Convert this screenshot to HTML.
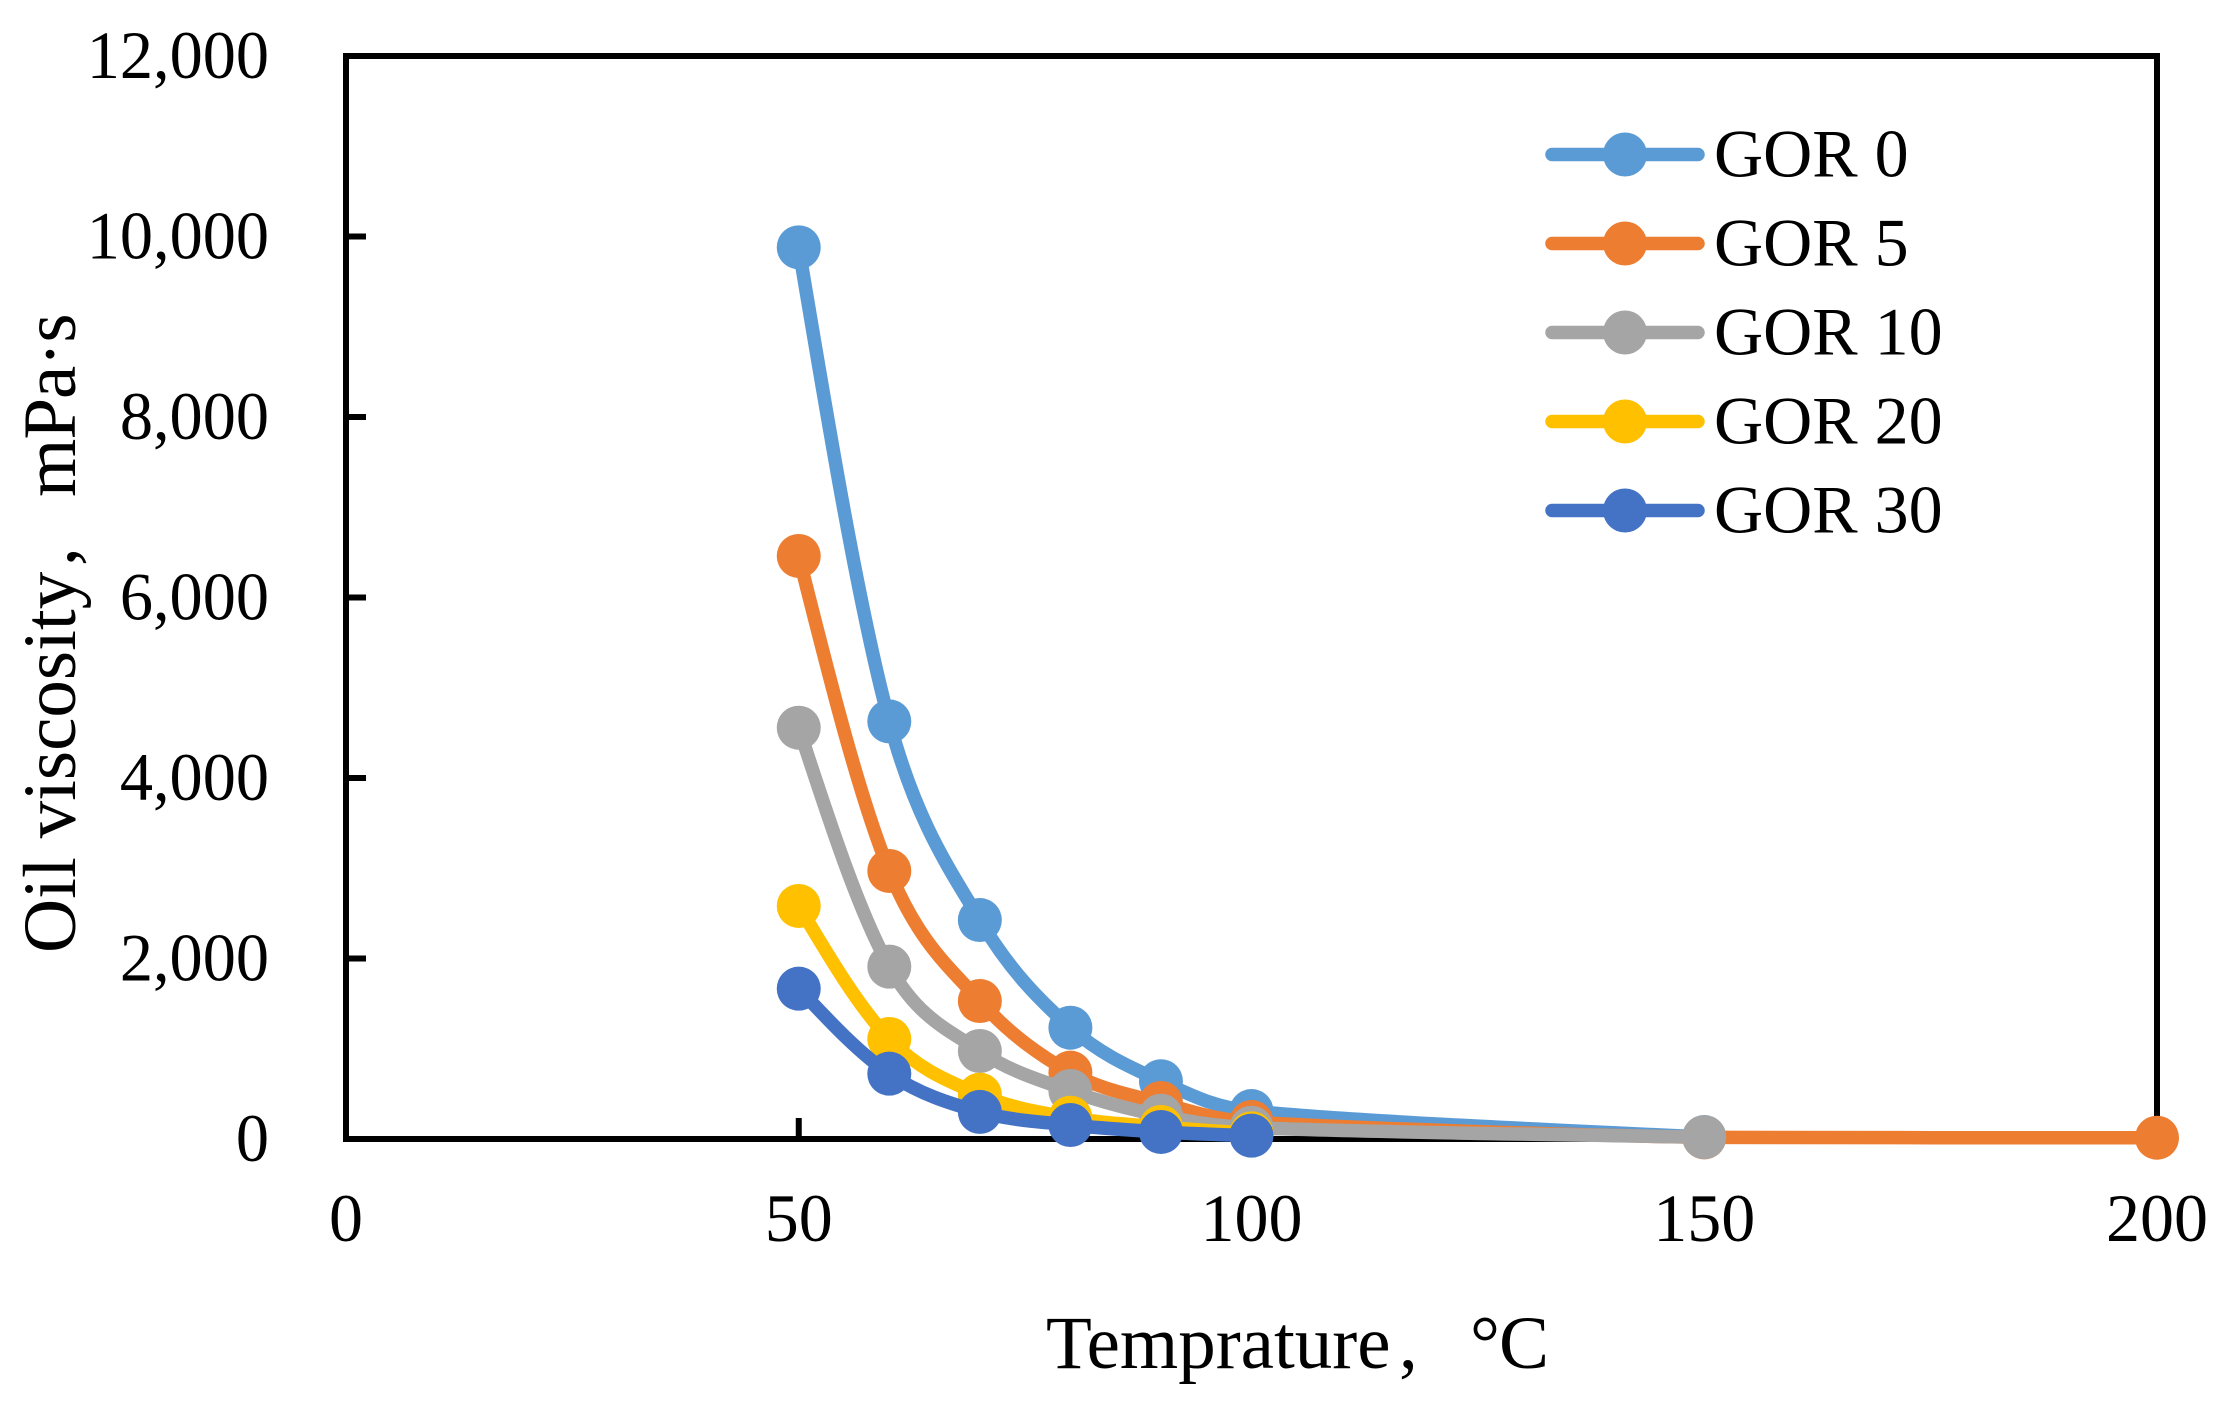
<!DOCTYPE html>
<html lang="en">
<head>
<meta charset="utf-8">
<title>Oil viscosity vs temperature</title>
<style>
  html, body { margin: 0; padding: 0; background: #fff; }
  svg { display: block; }
  text { font-family: "Liberation Serif", "Noto Serif CJK SC", serif; fill: #000; }
</style>
</head>
<body>
<svg id="chart" xmlns="http://www.w3.org/2000/svg" width="2232" height="1405" viewBox="0 0 2232 1405">
  <rect x="0" y="0" width="2232" height="1405" fill="#fff"/>
  <rect x="346" y="56" width="1811" height="1083" fill="none" stroke="#000" stroke-width="6"/>
  <g id="ticks"></g>
  <g id="series"></g>
  <text font-size="75" y="1368"><tspan x="1046">Temprature</tspan><tspan x="1399">,</tspan><tspan x="1470" letter-spacing="-1">°C</tspan></text>
  <text font-size="75" transform="translate(75,953) rotate(-90)"><tspan x="0">Oil viscosity</tspan><tspan x="387">,</tspan><tspan x="456" letter-spacing="-1">mPa·s</tspan></text>
  <g id="legend"></g>
</svg>
<script>
// Chart data
const xTickLabels = [0, 50, 100, 150, 200];
const yTickLabels = [0, 2000, 4000, 6000, 8000, 10000, 12000];
const tempsTo100 = [50, 60, 70, 80, 90, 100];
const tempsTo150 = [50, 60, 70, 80, 90, 100, 150];
const tempsTo200 = [50, 60, 70, 80, 90, 100, 150, 200];
const gor0Values = [9880, 4627, 2426, 1233, 640, 310, 22];
const gor5Values = [6460, 2970, 1529, 735, 399, 188, 18, 14];
const gor10Values = [4557, 1910, 975, 532, 258, 125, 20];
const gor20Values = [2582, 1108, 491, 236, 133, 63];
const gor30Values = [1666, 724, 300, 155, 78, 37];
const seriesNames = ["GOR 0", "GOR 5", "GOR 10", "GOR 20", "GOR 30"];
const seriesColors = ["#5B9BD5", "#ED7D31", "#A5A5A5", "#FFC000", "#4472C4"];
const seriesTemps = [tempsTo150, tempsTo200, tempsTo150, tempsTo100, tempsTo100];
const seriesValues = [gor0Values, gor5Values, gor10Values, gor20Values, gor30Values];

const SVG_NS = "http://www.w3.org/2000/svg";
const plot = { left: 346, right: 2157, top: 56, bottom: 1139 };
const xMax = 200;
const yMax = 12000;
const xScale = function (v) { return plot.left + (v / xMax) * (plot.right - plot.left); };
const yScale = function (v) { return plot.bottom - (v / yMax) * (plot.bottom - plot.top); };

function make(tag, attrs, parent) {
  const el = document.createElementNS(SVG_NS, tag);
  for (const k in attrs) el.setAttribute(k, attrs[k]);
  parent.appendChild(el);
  return el;
}

function clampBetween(v, a, b) {
  return Math.max(Math.min(a, b), Math.min(Math.max(a, b), v));
}

// Spreadsheet-style smoothing: tangent from neighbours, clamped on short segments
function smoothPath(pts) {
  const n = pts.length;
  const cpIn = new Array(n), cpOut = new Array(n);
  for (let i = 1; i < n - 1; i++) {
    const p0 = pts[i - 1], p1 = pts[i], p2 = pts[i + 1];
    const d01 = Math.hypot(p1[0] - p0[0], p1[1] - p0[1]);
    const d12 = Math.hypot(p2[0] - p1[0], p2[1] - p1[1]);
    const fa = Math.min(1, 2 * d01 / d12) / 6;
    const fb = Math.min(1, 2 * d12 / d01) / 6;
    cpIn[i] = [p1[0] - fa * (p2[0] - p0[0]), clampBetween(p1[1] - fa * (p2[1] - p0[1]), p0[1], p1[1])];
    cpOut[i] = [p1[0] + fb * (p2[0] - p0[0]), clampBetween(p1[1] + fb * (p2[1] - p0[1]), p1[1], p2[1])];
  }
  cpOut[0] = [pts[0][0] + (cpIn[1][0] - pts[0][0]) / 2, pts[0][1] + (cpIn[1][1] - pts[0][1]) / 2];
  cpIn[n - 1] = [pts[n - 1][0] + (cpOut[n - 2][0] - pts[n - 1][0]) / 2, pts[n - 1][1] + (cpOut[n - 2][1] - pts[n - 1][1]) / 2];
  let d = "M" + pts[0][0].toFixed(2) + " " + pts[0][1].toFixed(2);
  for (let i = 1; i < n; i++) {
    d += " C" + cpOut[i - 1][0].toFixed(2) + " " + cpOut[i - 1][1].toFixed(2) +
         " " + cpIn[i][0].toFixed(2) + " " + cpIn[i][1].toFixed(2) +
         " " + pts[i][0].toFixed(2) + " " + pts[i][1].toFixed(2);
  }
  return d;
}

// Axes: ticks and tick labels
const tickLayer = document.getElementById("ticks");
yTickLabels.forEach(function (v) {
  const y = yScale(v);
  if (v !== 0 && v !== yMax) {
    const tick = make("line", { x1: plot.left, x2: plot.left + 20, y1: y, y2: y, stroke: "#000", "stroke-width": 6 }, tickLayer);
    
    
  }
  const label = make("text", { "font-size": 68, "text-anchor": "end", transform: "translate(269," + (y + 22) + ") scale(0.975,1)" }, tickLayer);
  label.textContent = v.toLocaleString("en-US");
  
  
});
xTickLabels.forEach(function (v) {
  const x = xScale(v);
  if (v !== 0 && v !== xMax) {
    const tick = make("line", { x1: x, x2: x, y1: plot.bottom, y2: plot.bottom - 21, stroke: "#000", "stroke-width": 6 }, tickLayer);
    
    
  }
  const label = make("text", { x: x, y: 1241, "font-size": 68, "text-anchor": "middle" }, tickLayer);
  label.textContent = String(v);
  
  
});

// Series: smoothed line plus round markers
const seriesLayer = document.getElementById("series");
seriesNames.forEach(function (name, s) {
  const color = seriesColors[s];
  const temps = seriesTemps[s];
  const values = seriesValues[s];
  const pts = values.map(function (v, i) { return [xScale(temps[i]), yScale(v)]; });
  const group = make("g", {}, seriesLayer);
  
  
  const line = make("path", { d: smoothPath(pts), fill: "none", stroke: color, "stroke-width": 13.5, "stroke-linejoin": "round", "stroke-linecap": "round" }, group);
  
  
  pts.forEach(function (p) {
    const dot = make("circle", { cx: p[0], cy: p[1], r: 22, fill: color }, group);
    
    
  });
});

// Legend
const legendLayer = document.getElementById("legend");
seriesNames.forEach(function (name, s) {
  const y = 154.5 + s * 89;
  const entry = make("g", {}, legendLayer);
  
  
  const swatchLine = make("line", { x1: 1552, x2: 1698, y1: y, y2: y, stroke: seriesColors[s], "stroke-width": 13.5, "stroke-linecap": "round" }, entry);
  
  
  const swatchDot = make("circle", { cx: 1625, cy: y, r: 22, fill: seriesColors[s] }, entry);
  
  
  const label = make("text", { x: 1714, y: y + 22, "font-size": 68 }, entry);
  label.textContent = name;
  
  
});
</script>
</body>
</html>
